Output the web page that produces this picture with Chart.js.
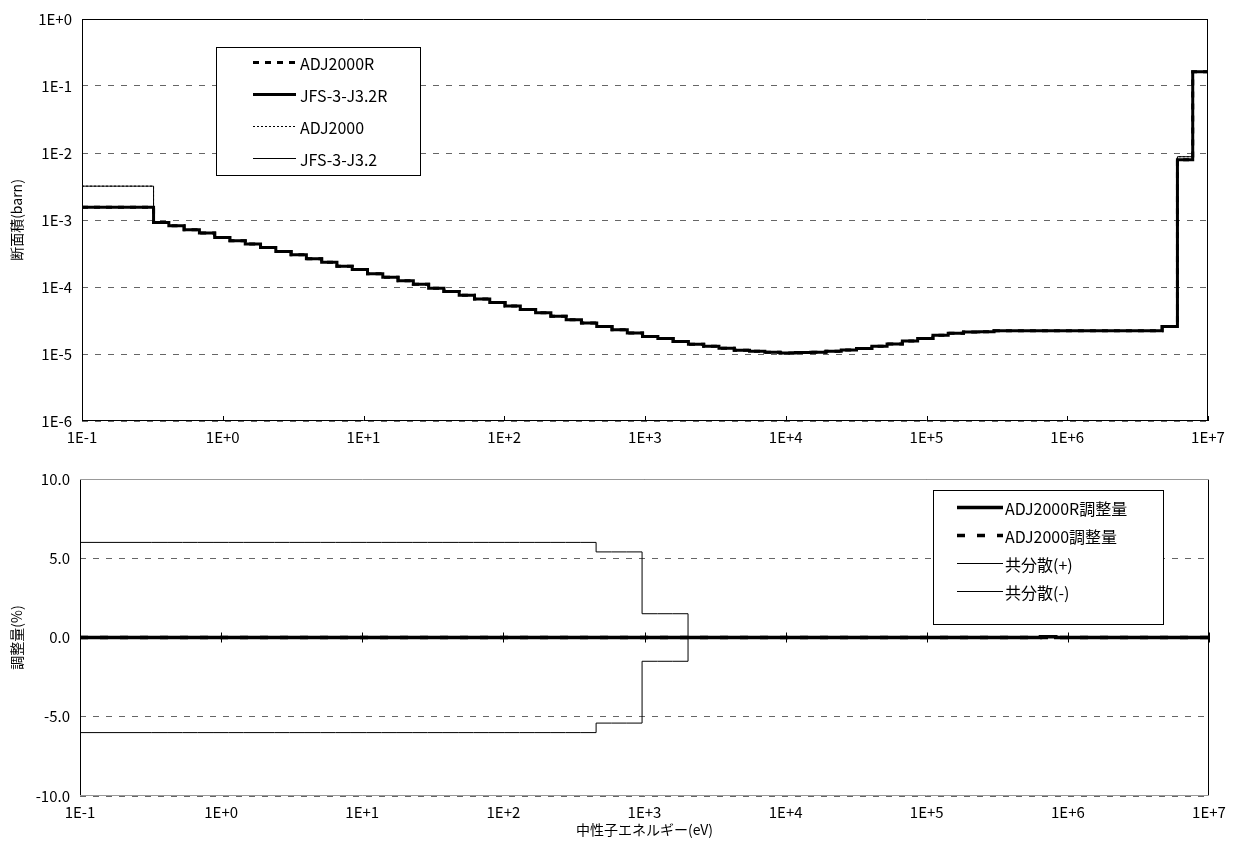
<!DOCTYPE html>
<html>
<head>
<meta charset="utf-8">
<script src="https://cdn.jsdelivr.net/npm/chart.js@4.4.1/dist/chart.umd.min.js"></script>
<style>
  body { margin: 0; background: #fff; }
  #topBox { position: absolute; left: 0; top: 0; width: 1235px; height: 450px; }
  #bottomBox { position: absolute; left: 0; top: 450px; width: 1235px; height: 413px; }
</style>
</head>
<body>
<div id="topBox"><canvas id="xsChart"></canvas></div>
<div id="bottomBox"><canvas id="adjChart"></canvas></div>
<script>
// group boundaries (eV), ascending; group 70 drawn from 0.1 eV
const energyBounds = [
  0.1, 0.32242, 0.41399, 0.53158, 0.68256, 0.87642, 1.1254, 1.4450, 1.8554, 2.3824,
  3.0590, 3.9279, 5.0435, 6.4760, 8.3153, 10.677, 13.710, 17.603, 22.603, 29.023,
  37.267, 47.851, 61.442, 78.893, 101.30, 130.07, 167.02, 214.45, 275.36, 353.57,
  454.00, 582.95, 748.52, 961.12, 1234.1, 1584.6, 2034.7, 2612.6, 3354.6, 4307.4,
  5530.8, 7101.7, 9118.8, 11709, 15034, 19305, 24788, 31828, 40868, 52475,
  67379, 86517, 111090, 142640, 183160, 235180, 301970, 387740, 497870, 639280,
  820850, 1054000, 1353400, 1737700, 2231300, 2865000, 3678800, 4723700, 6065300, 7788000,
  10000000
];

// cross sections (barn), group 70 -> group 1
const adj2000R = [
  1.55e-3, 9.20e-4, 8.22e-4, 7.16e-4, 6.38e-4, 5.50e-4, 4.90e-4, 4.37e-4, 3.89e-4, 3.39e-4,
  3.02e-4, 2.63e-4, 2.34e-4, 2.04e-4, 1.82e-4, 1.58e-4, 1.40e-4, 1.24e-4, 1.10e-4, 9.60e-5,
  8.55e-5, 7.50e-5, 6.64e-5, 5.86e-5, 5.19e-5, 4.60e-5, 4.12e-5, 3.67e-5, 3.25e-5, 2.90e-5,
  2.58e-5, 2.31e-5, 2.06e-5, 1.83e-5, 1.70e-5, 1.54e-5, 1.40e-5, 1.30e-5, 1.22e-5, 1.14e-5,
  1.10e-5, 1.06e-5, 1.035e-5, 1.05e-5, 1.066e-5, 1.10e-5, 1.15e-5, 1.21e-5, 1.30e-5, 1.41e-5,
  1.56e-5, 1.70e-5, 1.91e-5, 2.04e-5, 2.13e-5, 2.15e-5, 2.23e-5, 2.23e-5, 2.23e-5, 2.23e-5,
  2.23e-5, 2.23e-5, 2.23e-5, 2.23e-5, 2.23e-5, 2.23e-5, 2.23e-5, 2.57e-5, 7.9e-3, 0.163
];
const jfs32R = [
  1.55e-3, 9.20e-4, 8.22e-4, 7.16e-4, 6.38e-4, 5.50e-4, 4.90e-4, 4.37e-4, 3.89e-4, 3.39e-4,
  3.02e-4, 2.63e-4, 2.34e-4, 2.04e-4, 1.82e-4, 1.58e-4, 1.40e-4, 1.24e-4, 1.10e-4, 9.60e-5,
  8.55e-5, 7.50e-5, 6.64e-5, 5.86e-5, 5.19e-5, 4.60e-5, 4.12e-5, 3.67e-5, 3.25e-5, 2.90e-5,
  2.58e-5, 2.31e-5, 2.06e-5, 1.83e-5, 1.70e-5, 1.54e-5, 1.40e-5, 1.30e-5, 1.22e-5, 1.14e-5,
  1.10e-5, 1.06e-5, 1.035e-5, 1.05e-5, 1.066e-5, 1.10e-5, 1.15e-5, 1.21e-5, 1.30e-5, 1.41e-5,
  1.56e-5, 1.70e-5, 1.91e-5, 2.04e-5, 2.13e-5, 2.15e-5, 2.23e-5, 2.23e-5, 2.23e-5, 2.23e-5,
  2.23e-5, 2.23e-5, 2.23e-5, 2.23e-5, 2.23e-5, 2.23e-5, 2.23e-5, 2.57e-5, 7.9e-3, 0.163
];
const adj2000 = [
  3.2e-3, 9.20e-4, 8.22e-4, 7.16e-4, 6.38e-4, 5.50e-4, 4.90e-4, 4.37e-4, 3.89e-4, 3.39e-4,
  3.02e-4, 2.63e-4, 2.34e-4, 2.04e-4, 1.82e-4, 1.58e-4, 1.40e-4, 1.24e-4, 1.10e-4, 9.60e-5,
  8.55e-5, 7.50e-5, 6.64e-5, 5.86e-5, 5.19e-5, 4.60e-5, 4.12e-5, 3.67e-5, 3.25e-5, 2.90e-5,
  2.58e-5, 2.31e-5, 2.06e-5, 1.83e-5, 1.70e-5, 1.54e-5, 1.40e-5, 1.30e-5, 1.22e-5, 1.14e-5,
  1.10e-5, 1.06e-5, 1.035e-5, 1.05e-5, 1.066e-5, 1.10e-5, 1.15e-5, 1.21e-5, 1.30e-5, 1.41e-5,
  1.56e-5, 1.70e-5, 1.91e-5, 2.04e-5, 2.13e-5, 2.15e-5, 2.23e-5, 2.23e-5, 2.23e-5, 2.23e-5,
  2.23e-5, 2.23e-5, 2.23e-5, 2.23e-5, 2.23e-5, 2.23e-5, 2.23e-5, 2.57e-5, 8.8e-3, 0.163
];
const jfs32 = [
  3.2e-3, 9.20e-4, 8.22e-4, 7.16e-4, 6.38e-4, 5.50e-4, 4.90e-4, 4.37e-4, 3.89e-4, 3.39e-4,
  3.02e-4, 2.63e-4, 2.34e-4, 2.04e-4, 1.82e-4, 1.58e-4, 1.40e-4, 1.24e-4, 1.10e-4, 9.60e-5,
  8.55e-5, 7.50e-5, 6.64e-5, 5.86e-5, 5.19e-5, 4.60e-5, 4.12e-5, 3.67e-5, 3.25e-5, 2.90e-5,
  2.58e-5, 2.31e-5, 2.06e-5, 1.83e-5, 1.70e-5, 1.54e-5, 1.40e-5, 1.30e-5, 1.22e-5, 1.14e-5,
  1.10e-5, 1.06e-5, 1.035e-5, 1.05e-5, 1.066e-5, 1.10e-5, 1.15e-5, 1.21e-5, 1.30e-5, 1.41e-5,
  1.56e-5, 1.70e-5, 1.91e-5, 2.04e-5, 2.13e-5, 2.15e-5, 2.23e-5, 2.23e-5, 2.23e-5, 2.23e-5,
  2.23e-5, 2.23e-5, 2.23e-5, 2.23e-5, 2.23e-5, 2.23e-5, 2.23e-5, 2.57e-5, 8.8e-3, 0.163
];

// adjustments (%), group 70 -> group 1
const adjR_pct = [
  0, 0, 0, 0, 0, 0, 0, 0, 0, 0,
  0, 0, 0, 0, 0, 0, 0, 0, 0, 0,
  0, 0, 0, 0, 0, 0, 0, 0, 0, 0,
  0, 0, 0, 0, 0, 0, 0, 0, 0, 0,
  0, 0, 0, 0, 0, 0, 0, 0, 0, 0,
  0, 0, 0, 0, 0, 0, 0, 0, 0, 0.05,
  0, 0, 0, 0, 0, 0, 0, 0, 0, 0
];
const adj_pct = [
  0, 0, 0, 0, 0, 0, 0, 0, 0, 0,
  0, 0, 0, 0, 0, 0, 0, 0, 0, 0,
  0, 0, 0, 0, 0, 0, 0, 0, 0, 0,
  0, 0, 0, 0, 0, 0, 0, 0, 0, 0,
  0, 0, 0, 0, 0, 0, 0, 0, 0, 0,
  0, 0, 0, 0, 0, 0, 0, 0, 0, 0,
  0, 0, 0, 0, 0, 0, 0, 0, 0, 0
];
const covPlus = [
  6.0, 6.0, 6.0, 6.0, 6.0, 6.0, 6.0, 6.0, 6.0, 6.0,
  6.0, 6.0, 6.0, 6.0, 6.0, 6.0, 6.0, 6.0, 6.0, 6.0,
  6.0, 6.0, 6.0, 6.0, 6.0, 6.0, 6.0, 6.0, 6.0, 6.0,
  5.4, 5.4, 5.4, 1.5, 1.5, 1.5, 0, 0, 0, 0,
  0, 0, 0, 0, 0, 0, 0, 0, 0, 0,
  0, 0, 0, 0, 0, 0, 0, 0, 0, 0,
  0, 0, 0, 0, 0, 0, 0, 0, 0, 0
];
const covMinus = [
  -6.0, -6.0, -6.0, -6.0, -6.0, -6.0, -6.0, -6.0, -6.0, -6.0,
  -6.0, -6.0, -6.0, -6.0, -6.0, -6.0, -6.0, -6.0, -6.0, -6.0,
  -6.0, -6.0, -6.0, -6.0, -6.0, -6.0, -6.0, -6.0, -6.0, -6.0,
  -5.4, -5.4, -5.4, -1.5, -1.5, -1.5, 0, 0, 0, 0,
  0, 0, 0, 0, 0, 0, 0, 0, 0, 0,
  0, 0, 0, 0, 0, 0, 0, 0, 0, 0,
  0, 0, 0, 0, 0, 0, 0, 0, 0, 0
];

const xTicks = [0.1, 1, 10, 100, 1e3, 1e4, 1e5, 1e6, 1e7];
const xTickLabels = ['1E-1', '1E+0', '1E+1', '1E+2', '1E+3', '1E+4', '1E+5', '1E+6', '1E+7'];
const xsTicks = [1e-6, 1e-5, 1e-4, 1e-3, 1e-2, 1e-1, 1];
const xsTickLabels = ['1E-6', '1E-5', '1E-4', '1E-3', '1E-2', '1E-1', '1E+0'];
const adjTickLabels = ['-10.0', '-5.0', '0.0', '5.0', '10.0'];

const FONT = "'Noto Sans CJK JP', 'Noto Sans', sans-serif";

// step points: each group value holds from its lower bound to the next one
function steps(vals) {
  const pts = vals.map((v, i) => ({ x: energyBounds[i], y: v }));
  pts.push({ x: energyBounds[energyBounds.length - 1], y: vals[vals.length - 1] });
  return pts;
}

function line(label, vals, width, dash) {
  return {
    label: label,
    data: steps(vals),
    borderColor: '#000',
    borderWidth: width,
    borderDash: dash,
    pointRadius: 0,
    stepped: 'before',
    fill: false
  };
}

// legend in a framed box at fixed canvas coords
const boxLegend = {
  id: 'boxLegend',
  afterDraw(chart, args, o) {
    const ctx = chart.ctx;
    ctx.save();
    ctx.fillStyle = '#fff';
    ctx.fillRect(o.x, o.y, o.w, o.h);
    ctx.strokeStyle = '#000';
    ctx.lineWidth = 1;
    ctx.strokeRect(o.x + 0.5, o.y + 0.5, o.w, o.h);
    ctx.font = '16px ' + FONT;
    ctx.textBaseline = 'middle';
    chart.data.datasets.forEach((ds, i) => {
      const ry = Math.round(o.y + o.first + i * o.gap) + 0.5;
      ctx.beginPath();
      ctx.lineWidth = o.widths ? o.widths[i] : ds.borderWidth;
      ctx.setLineDash(o.dashes ? o.dashes[i] : (ds.borderDash || []));
      ctx.moveTo(o.x + o.l0, ry);
      ctx.lineTo(o.x + o.l1, ry);
      ctx.stroke();
      ctx.setLineDash([]);
      ctx.fillStyle = '#000';
      ctx.fillText(ds.label, o.x + o.tx, ry + 1);
    });
    ctx.restore();
  }
};

// frame round the plot area and decade tick marks
const frame = {
  id: 'frame',
  afterDatasetsDraw(chart, args, o) {
    const { ctx, chartArea: a } = chart;
    const xs = chart.scales.x;
    ctx.save();
    ctx.lineWidth = 1;
    ctx.strokeStyle = '#000';
    ctx.beginPath();
    ctx.moveTo(a.left + 0.5, a.top);
    ctx.lineTo(a.left + 0.5, a.bottom);
    ctx.moveTo(a.right - 0.5, a.top);
    ctx.lineTo(a.right - 0.5, a.bottom);
    ctx.stroke();
    ctx.strokeStyle = o.edge;
    ctx.beginPath();
    ctx.moveTo(a.left, a.top + 0.5);
    ctx.lineTo(a.right, a.top + 0.5);
    ctx.moveTo(a.left, a.bottom - 0.5);
    ctx.lineTo(a.right, a.bottom - 0.5);
    ctx.stroke();
    ctx.strokeStyle = '#000';
    ctx.beginPath();
    const zero = o.tickAt === 'zero';
    const ty = zero ? chart.scales.y.getPixelForValue(0) : a.bottom;
    xTicks.forEach(v => {
      const px = Math.round(xs.getPixelForValue(v)) + 0.5;
      ctx.moveTo(px, ty + (zero ? 5 : 0));
      ctx.lineTo(px, ty - 5);
    });
    ctx.stroke();
    ctx.restore();
  }
};

const xAxis = (withTitle) => ({
  type: 'logarithmic',
  min: 0.1,
  max: 1e7,
  afterBuildTicks: s => { s.ticks = xTicks.map(v => ({ value: v })); },
  afterFit: s => { s.height = withTitle ? 42 : 29; },
  ticks: {
    autoSkip: false,
    maxRotation: 0,
    padding: 7,
    color: '#000',
    font: { family: FONT, size: 15 },
    callback: (v, i) => xTickLabels[i]
  },
  grid: { display: false, drawTicks: false },
  border: { display: false },
  title: withTitle ? {
    display: true,
    text: '中性子エネルギー(eV)',
    color: '#000',
    font: { family: FONT, size: 14 },
    padding: { top: 4, bottom: 0 }
  } : { display: false }
});

new Chart(document.getElementById('xsChart'), {
  type: 'line',
  data: {
    datasets: [
      line('ADJ2000R', adj2000R, 3, [6, 6]),
      line('JFS-3-J3.2R', jfs32R, 3, []),
      line('ADJ2000', adj2000, 1, [2, 2]),
      line('JFS-3-J3.2', jfs32, 1, [])
    ]
  },
  options: {
    responsive: true,
    maintainAspectRatio: false,
    animation: false,
    devicePixelRatio: 1,
    layout: { padding: { top: 19, right: 27, left: 0, bottom: 0 } },
    scales: {
      x: xAxis(false),
      y: {
        type: 'logarithmic',
        min: 1e-6,
        max: 1,
        afterBuildTicks: s => { s.ticks = xsTicks.map(v => ({ value: v })); },
        afterFit: s => { s.width = 82; },
        ticks: {
          padding: 10,
          color: '#000',
          font: { family: FONT, size: 15 },
          callback: (v, i) => xsTickLabels[i]
        },
        grid: { color: '#666', lineWidth: 1, drawTicks: false },
        border: { display: false, dash: [6, 7] },
        title: {
          display: true,
          text: '断面積(barn)',
          color: '#000',
          font: { family: FONT, size: 14 },
          padding: { top: 8, bottom: 2 }
        }
      }
    },
    plugins: {
      legend: { display: false },
      tooltip: { enabled: false },
      frame: { edge: '#000', tickAt: 'bottom' },
      boxLegend: {
        x: 216, y: 47, w: 204, h: 128, first: 15, gap: 32,
        l0: 37, l1: 80, tx: 84
      }
    }
  },
  plugins: [frame, boxLegend]
});

new Chart(document.getElementById('adjChart'), {
  type: 'line',
  data: {
    datasets: [
      line('ADJ2000R調整量', adjR_pct, 3.5, []),
      line('ADJ2000調整量', adj_pct, 3.5, [8, 12]),
      line('共分散(+)', covPlus, 1, []),
      line('共分散(-)', covMinus, 1, [])
    ]
  },
  options: {
    responsive: true,
    maintainAspectRatio: false,
    animation: false,
    devicePixelRatio: 1,
    layout: { padding: { top: 29, right: 26, left: 0, bottom: 25 } },
    scales: {
      x: xAxis(true),
      y: {
        type: 'linear',
        min: -10,
        max: 10,
        ticks: {
          stepSize: 5,
          padding: 10,
          color: '#000',
          font: { family: FONT, size: 15 },
          callback: (v, i) => adjTickLabels[i]
        },
        afterFit: s => { s.width = 80; },
        grid: { color: '#666', lineWidth: 1, drawTicks: false },
        border: { display: false, dash: [6, 7] },
        title: {
          display: true,
          text: '調整量(%)',
          color: '#000',
          font: { family: FONT, size: 14 },
          padding: { top: 8, bottom: 2 }
        }
      }
    },
    plugins: {
      legend: { display: false },
      tooltip: { enabled: false },
      frame: { edge: '#999', tickAt: 'zero' },
      boxLegend: {
        x: 933, y: 40, w: 230, h: 134, first: 17, gap: 28,
        l0: 24, l1: 70, tx: 72,
        widths: [3.5, 3.5, 1, 1],
        dashes: [[], [8, 12], [], []]
      }
    }
  },
  plugins: [frame, boxLegend]
});
</script>
</body>
</html>
